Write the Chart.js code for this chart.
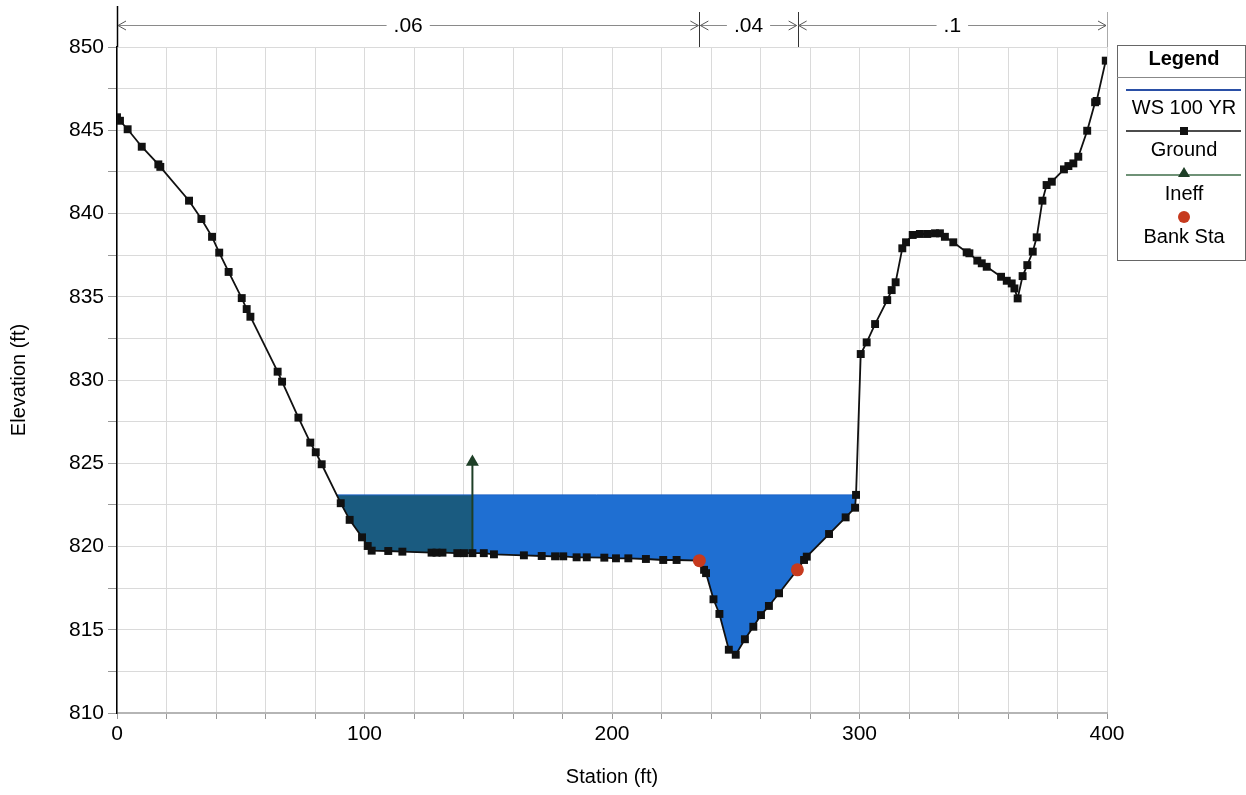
<!DOCTYPE html>
<html><head><meta charset="utf-8">
<script src="https://cdn.jsdelivr.net/npm/chart.js@4.4.1/dist/chart.umd.min.js"></script>
<style>html,body{margin:0;padding:0;background:#fff;}#wrap{position:relative;width:1246px;height:795px;}canvas{display:block;}</style>
</head><body><div id="wrap"><canvas id="c" width="1246" height="795"></canvas></div>
<script>
const stations = [0, 1.2, 4.3, 10, 16.7, 17.5, 29.1, 34.1, 38.4, 41.3, 45.1, 50.4, 52.4, 53.9, 64.9, 66.7, 73.3, 78.1, 80.3, 82.7, 90.4, 94, 99, 101.3, 102.9, 109.6, 115.3, 127.1, 129.1, 131.5, 137.5, 140.2, 143.6, 148.2, 152.3, 164.4, 171.6, 177, 180.3, 185.7, 189.8, 196.9, 201.6, 206.6, 213.7, 220.7, 226.1, 235.3, 237.2, 238, 241, 243.4, 247.2, 250, 253.7, 257.1, 260.2, 263.4, 267.5, 274.9, 277.6, 278.7, 287.7, 294.4, 298.2, 298.6, 300.5, 302.9, 306.3, 311.2, 313, 314.6, 317.3, 318.8, 321.5, 324.4, 327.4, 330.5, 332.5, 334.5, 337.9, 343.3, 344.4, 347.6, 349.4, 351.4, 357.2, 359.5, 361.5, 362.6, 363.9, 365.9, 367.8, 370, 371.6, 373.9, 375.6, 377.7, 382.6, 384.4, 386.4, 388.4, 392, 395.2, 395.8, 399.5];
const elevations = [845.78, 845.57, 845.06, 844.01, 842.95, 842.8, 840.77, 839.67, 838.6, 837.65, 836.49, 834.92, 834.26, 833.8, 830.5, 829.9, 827.74, 826.24, 825.66, 824.94, 822.6, 821.6, 820.55, 820.03, 819.75, 819.73, 819.69, 819.63, 819.63, 819.63, 819.6, 819.6, 819.6, 819.6, 819.53, 819.47, 819.43, 819.41, 819.41, 819.35, 819.35, 819.33, 819.29, 819.29, 819.25, 819.19, 819.19, 819.15, 818.6, 818.4, 816.83, 815.95, 813.8, 813.5, 814.43, 815.18, 815.88, 816.43, 817.19, 818.6, 819.19, 819.39, 820.75, 821.75, 822.33, 823.1, 831.56, 832.26, 833.36, 834.8, 835.4, 835.87, 837.91, 838.27, 838.71, 838.77, 838.77, 838.81, 838.81, 838.6, 838.27, 837.67, 837.61, 837.17, 837.01, 836.8, 836.2, 835.96, 835.8, 835.5, 834.9, 836.24, 836.9, 837.71, 838.57, 840.77, 841.71, 841.91, 842.65, 842.85, 843.01, 843.41, 844.97, 846.68, 846.76, 849.18];
const wsElevation = 823.1;
const ineffStations = [143.6, 143.6];
const ineffElevations = [819.6, 825.07];
const bankStations = [235.3, 274.9];
const bankElevations = [819.15, 818.6];
const nValueBreaks = [0, 235.3, 275, 400];
const nValueLabels = ['.06', '.04', '.1'];
const xTickLabels = [0, 100, 200, 300, 400];
const yTickLabels = [810, 815, 820, 825, 830, 835, 840, 845, 850];
const legendLabels = ['WS 100 YR', 'Ground', 'Ineff', 'Bank Sta'];

const FONT = '"Liberation Sans", Arial, sans-serif';
const groundPts = stations.map((s, i) => ({x: s, y: elevations[i]}));
const ineffLimit = ineffStations[0];
const ineffGround = groundPts.filter(p => p.x <= ineffLimit);

function crossing(fromLeft) {
  const n = groundPts.length;
  if (fromLeft) {
    for (let i = 1; i < n; i++) {
      const a = groundPts[i - 1], b = groundPts[i];
      if (a.y >= wsElevation && b.y < wsElevation) return a.x + (wsElevation - a.y) / (b.y - a.y) * (b.x - a.x);
    }
  } else {
    for (let i = n - 1; i > 0; i--) {
      const a = groundPts[i - 1], b = groundPts[i];
      if (b.y >= wsElevation && a.y <= wsElevation) return a.x + (wsElevation - a.y) / (b.y - a.y) * (b.x - a.x);
    }
  }
  return 0;
}
const wsPts = [{x: crossing(true), y: wsElevation}, {x: crossing(false), y: wsElevation}];

const COL_WATER = '#1f6fd2';
const COL_INEFF_WATER = '#1a5b80';
const COL_INEFF = '#1e3f27';

const topPlugin = {
  id: 'nvals',
  afterDraw(chart) {
    const ctx = chart.ctx, xs = chart.scales.x, top = chart.chartArea.top;
    const yl = 25;
    ctx.save();
    nValueBreaks.forEach((b, i) => {
      const px = Math.round(xs.getPixelForValue(b)) + 0.5;
      ctx.strokeStyle = i === 0 ? '#000' : (i === nValueBreaks.length - 1 ? '#aaa' : '#333');
      ctx.lineWidth = i === 0 ? 1.5 : 1;
      ctx.beginPath(); ctx.moveTo(px, i === 0 ? 6 : 12); ctx.lineTo(px, top); ctx.stroke();
    });
    ctx.font = '21px ' + FONT;
    ctx.textAlign = 'center'; ctx.textBaseline = 'middle';
    for (let i = 0; i < nValueLabels.length; i++) {
      const x1 = xs.getPixelForValue(nValueBreaks[i]) + 1;
      const x2 = xs.getPixelForValue(nValueBreaks[i + 1]) - 1;
      const mid = (x1 + x2) / 2;
      const w = ctx.measureText(nValueLabels[i]).width;
      ctx.strokeStyle = '#8a8a8a'; ctx.lineWidth = 1;
      ctx.beginPath();
      ctx.moveTo(x1, yl + 0.5); ctx.lineTo(mid - w / 2 - 7, yl + 0.5);
      ctx.moveTo(mid + w / 2 + 7, yl + 0.5); ctx.lineTo(x2, yl + 0.5);
      ctx.stroke();
      ctx.strokeStyle = '#555';
      ctx.beginPath();
      ctx.moveTo(x1 + 8, yl - 4); ctx.lineTo(x1, yl + 0.5); ctx.lineTo(x1 + 8, yl + 5);
      ctx.moveTo(x2 - 8, yl - 4); ctx.lineTo(x2, yl + 0.5); ctx.lineTo(x2 - 8, yl + 5);
      ctx.stroke();
      ctx.fillStyle = '#000';
      ctx.fillText(nValueLabels[i], mid, yl + 1);
    }
    // legend box
    const L = 1117, T = 45, R = 1245, B = 260, cx = 1184;
    ctx.strokeStyle = '#666'; ctx.lineWidth = 1;
    ctx.strokeRect(L + 0.5, T + 0.5, R - L, B - T);
    ctx.fillStyle = '#000';
    ctx.font = 'bold 20px ' + FONT;
    ctx.fillText('Legend', cx, 59);
    ctx.strokeStyle = '#888';
    ctx.beginPath(); ctx.moveTo(L, 77.5); ctx.lineTo(R, 77.5); ctx.stroke();
    ctx.font = '20px ' + FONT;
    ctx.strokeStyle = '#2a4fa6'; ctx.lineWidth = 2;
    ctx.beginPath(); ctx.moveTo(1126, 90); ctx.lineTo(1241, 90); ctx.stroke();
    ctx.fillText(legendLabels[0], cx, 108);
    ctx.strokeStyle = '#111'; ctx.lineWidth = 1.5;
    ctx.beginPath(); ctx.moveTo(1126, 131); ctx.lineTo(1241, 131); ctx.stroke();
    ctx.fillStyle = '#111'; ctx.fillRect(cx - 4, 127, 8, 8);
    ctx.fillStyle = '#000'; ctx.fillText(legendLabels[1], cx, 150);
    ctx.strokeStyle = '#3f6e4a'; ctx.lineWidth = 1.5;
    ctx.beginPath(); ctx.moveTo(1126, 175); ctx.lineTo(1241, 175); ctx.stroke();
    ctx.fillStyle = COL_INEFF;
    ctx.beginPath(); ctx.moveTo(cx, 167); ctx.lineTo(cx + 6, 177); ctx.lineTo(cx - 6, 177); ctx.closePath(); ctx.fill();
    ctx.fillStyle = '#000'; ctx.fillText(legendLabels[2], cx, 194);
    ctx.fillStyle = '#c63a1e';
    ctx.beginPath(); ctx.arc(cx, 217, 6, 0, Math.PI * 2); ctx.fill();
    ctx.fillStyle = '#000'; ctx.fillText(legendLabels[3], cx, 237);
    ctx.restore();
  }
};

new Chart(document.getElementById('c'), {
  type: 'line',
  data: {
    datasets: [
      {label: 'Bank Sta', data: bankStations.map((s, i) => ({x: s, y: bankElevations[i]})), showLine: false,
       pointStyle: 'circle', pointRadius: 6.5, pointBackgroundColor: '#c63a1e', pointBorderColor: '#c63a1e', borderWidth: 0},
      {label: 'Ground', data: groundPts, borderColor: '#111', borderWidth: 1.8, pointStyle: 'rect', pointRadius: 5.6,
       pointBackgroundColor: '#111', pointBorderColor: '#111', pointBorderWidth: 0, fill: false, tension: 0},
      {label: 'Ineff', data: ineffStations.map((s, i) => ({x: s, y: ineffElevations[i]})), borderColor: COL_INEFF, borderWidth: 2,
       pointStyle: 'triangle', pointRadius: [0, 7.5], pointBackgroundColor: COL_INEFF, pointBorderColor: COL_INEFF, pointBorderWidth: 0},
      {label: 'WS 100 YR', data: wsPts, borderColor: '#1d63c6', borderWidth: 1, pointRadius: 0, fill: false},
      {label: 'ineffFill', data: ineffGround, borderWidth: 0, borderColor: 'rgba(0,0,0,0)', pointRadius: 0,
       fill: {target: {value: wsElevation}, above: 'rgba(0,0,0,0)', below: COL_INEFF_WATER}},
      {label: 'waterFill', data: groundPts, borderWidth: 0, borderColor: 'rgba(0,0,0,0)', pointRadius: 0,
       fill: {target: {value: wsElevation}, above: 'rgba(0,0,0,0)', below: COL_WATER}}
    ]
  },
  options: {
    responsive: false, animation: false, devicePixelRatio: 1,
    layout: {padding: {top: 47, right: 139, left: 0, bottom: 0}},
    plugins: {legend: {display: false}, tooltip: {enabled: false}},
    scales: {
      x: {
        type: 'linear', min: 0, max: 400,
        afterFit: s => { s.height = 82; },
        ticks: {stepSize: 20, autoSkip: false, maxRotation: 0, color: '#000', font: {size: 21, family: FONT}, padding: 3,
                callback: v => xTickLabels.includes(v) ? String(v) : ''},
        grid: {color: '#dadada', lineWidth: 1, tickLength: 6, tickColor: '#999'},
        border: {color: '#b5b5b5', width: 2},
        title: {display: true, text: 'Station (ft)', color: '#000', font: {size: 20, family: FONT}, padding: {top: 0, bottom: 6}}
      },
      y: {
        type: 'linear', min: 810, max: 850,
        afterFit: s => { s.width = 117; },
        ticks: {stepSize: 2.5, autoSkip: false, color: '#000', font: {size: 21, family: FONT}, padding: 4,
                callback: v => yTickLabels.includes(v) ? String(v) : ''},
        grid: {color: '#dadada', lineWidth: 1, tickLength: 9, tickColor: '#999'},
        border: {color: '#000', width: 1.5},
        title: {display: true, text: 'Elevation (ft)', color: '#000', font: {size: 20, family: FONT}, padding: {top: 7, bottom: 0}}
      }
    }
  },
  plugins: [topPlugin]
});
</script></body></html>
